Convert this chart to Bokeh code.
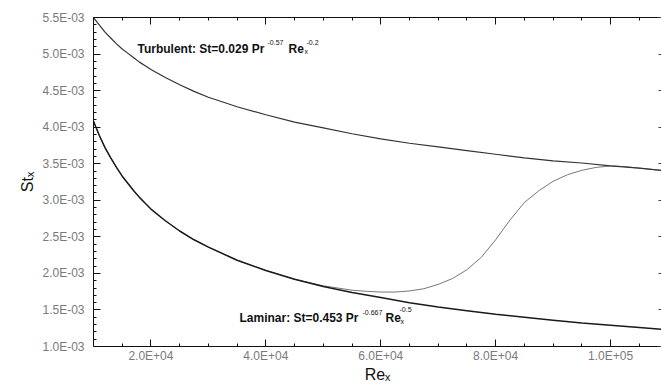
from bokeh.plotting import figure
from bokeh.models import LinearAxis, FixedTicker, Label
from bokeh.embed import file_html
from bokeh.resources import INLINE

# ---- data ----
re_turb = [1.0e4, 1.1e4, 1.2e4, 1.3e4, 1.4e4, 1.5e4, 1.6e4, 1.7e4, 1.8e4, 1.9e4, 2.0e4, 2.25e4,
           2.5e4, 2.75e4, 3.0e4, 3.5e4, 4.0e4, 4.5e4, 5.0e4, 5.5e4, 6.0e4, 6.5e4, 7.0e4, 7.5e4,
           8.0e4, 8.5e4, 9.0e4, 9.5e4, 1.0e5, 1.05e5, 1.1e5]
st_turb = [5.50e-3, 5.40e-3, 5.30e-3, 5.22e-3, 5.14e-3, 5.07e-3, 5.01e-3, 4.95e-3, 4.89e-3, 4.84e-3,
           4.79e-3, 4.68e-3, 4.58e-3, 4.49e-3, 4.41e-3, 4.28e-3, 4.17e-3, 4.07e-3, 3.99e-3, 3.91e-3,
           3.84e-3, 3.78e-3, 3.73e-3, 3.68e-3, 3.63e-3, 3.58e-3, 3.54e-3, 3.51e-3, 3.47e-3, 3.44e-3,
           3.40e-3]

re_lam = [1.0e4, 1.1e4, 1.2e4, 1.3e4, 1.4e4, 1.5e4, 1.6e4, 1.7e4, 1.8e4, 1.9e4, 2.0e4, 2.25e4,
          2.5e4, 2.75e4, 3.0e4, 3.5e4, 4.0e4, 4.5e4, 5.0e4, 5.5e4, 6.0e4, 6.5e4, 7.0e4, 7.5e4,
          8.0e4, 8.5e4, 9.0e4, 9.5e4, 1.0e5, 1.05e5, 1.1e5]
st_lam = [4.08e-3, 3.89e-3, 3.72e-3, 3.58e-3, 3.45e-3, 3.33e-3, 3.23e-3, 3.13e-3, 3.04e-3, 2.96e-3,
          2.88e-3, 2.72e-3, 2.58e-3, 2.46e-3, 2.36e-3, 2.18e-3, 2.04e-3, 1.92e-3, 1.82e-3, 1.74e-3,
          1.67e-3, 1.60e-3, 1.54e-3, 1.49e-3, 1.44e-3, 1.40e-3, 1.36e-3, 1.32e-3, 1.29e-3, 1.26e-3,
          1.23e-3]

re_trans = [1.0e4, 1.1e4, 1.2e4, 1.3e4, 1.4e4, 1.5e4, 1.6e4, 1.7e4, 1.8e4, 1.9e4, 2.0e4, 2.25e4,
            2.5e4, 2.75e4, 3.0e4, 3.5e4, 4.0e4, 4.5e4, 5.0e4, 5.5e4, 5.75e4, 6.0e4, 6.25e4, 6.5e4,
            6.75e4, 7.0e4, 7.25e4, 7.5e4, 7.75e4, 8.0e4, 8.25e4, 8.5e4, 8.75e4, 9.0e4, 9.25e4,
            9.5e4, 9.75e4, 1.0e5, 1.025e5, 1.05e5, 1.1e5]
st_trans = [4.08e-3, 3.89e-3, 3.72e-3, 3.58e-3, 3.45e-3, 3.33e-3, 3.23e-3, 3.13e-3, 3.04e-3, 2.96e-3,
            2.88e-3, 2.72e-3, 2.58e-3, 2.46e-3, 2.36e-3, 2.18e-3, 2.04e-3, 1.92e-3, 1.83e-3, 1.77e-3,
            1.755e-3, 1.745e-3, 1.745e-3, 1.76e-3, 1.79e-3, 1.85e-3, 1.93e-3, 2.05e-3, 2.22e-3,
            2.46e-3, 2.73e-3, 2.97e-3, 3.13e-3, 3.26e-3, 3.35e-3, 3.41e-3, 3.45e-3, 3.47e-3,
            3.46e-3, 3.44e-3, 3.40e-3]

x_major_ticks = [2.0e4, 4.0e4, 6.0e4, 8.0e4, 1.0e5]
x_tick_labels = ["2.0E+04", "4.0E+04", "6.0E+04", "8.0E+04", "1.0E+05"]
y_major_ticks = [1.0e-3, 1.5e-3, 2.0e-3, 2.5e-3, 3.0e-3, 3.5e-3, 4.0e-3, 4.5e-3, 5.0e-3, 5.5e-3]
y_tick_labels = ["1.0E-03", "1.5E-03", "2.0E-03", "2.5E-03", "3.0E-03",
                 "3.5E-03", "4.0E-03", "4.5E-03", "5.0E-03", "5.5E-03"]
x_minor_ticks = [1.5e4, 2.5e4, 3.0e4, 3.5e4, 4.5e4, 5.0e4, 5.5e4, 6.5e4, 7.0e4, 7.5e4,
                 8.5e4, 9.0e4, 9.5e4, 1.05e5]
y_minor_ticks = [round(1.1e-3 + 1.0e-4 * i, 6) for i in range(44)]

x_title = "Re\u2093"
y_title = "St\u2093"

X_END = 1.0887e5
Y_END = 5.5005e-3

# ---- figure ----
p = figure(width=661, height=385, x_range=(1.0e4, X_END), y_range=(1.0e-3, Y_END),
           output_backend="svg", toolbar_location=None, title=" ",
           min_border_left=93, min_border_right=0, min_border_top=17, min_border_bottom=33)
p.title.text_font_size = "1px"
p.title.standoff = 0
p.title.offset = 0
p.grid.visible = False
p.outline_line_color = None

font = "Liberation Sans"
axis_col = "#111111"

xa = p.xaxis[0]
ya = p.yaxis[0]
xa.ticker = FixedTicker(ticks=x_major_ticks, minor_ticks=x_minor_ticks)
ya.ticker = FixedTicker(ticks=y_major_ticks, minor_ticks=y_minor_ticks)
xa.major_label_overrides = {t: s for t, s in zip(x_major_ticks, x_tick_labels)}
ya.major_label_overrides = {t: s for t, s in zip(y_major_ticks, y_tick_labels)}
for ax in (xa, ya):
    ax.major_tick_in = 7
    ax.major_tick_out = 0
    ax.minor_tick_in = 3
    ax.minor_tick_out = 0
    ax.axis_line_color = axis_col
    ax.major_tick_line_color = axis_col
    ax.minor_tick_line_color = axis_col
    ax.major_label_text_font = font
    ax.major_label_text_font_size = "12px"
    ax.major_label_text_color = "#7a7a7a"
    ax.axis_label_text_font = font
    ax.axis_label_text_font_size = "16px"
    ax.axis_label_text_font_style = "normal"
    ax.axis_label_text_color = axis_col
xa.axis_label = x_title
ya.axis_label = y_title
xa.major_label_standoff = 2
xa.axis_label_standoff = 0
ya.major_label_standoff = 9
ya.axis_label_standoff = 3

top = LinearAxis(ticker=FixedTicker(ticks=x_major_ticks, minor_ticks=x_minor_ticks),
                 major_label_overrides={t: "" for t in x_major_ticks}, major_label_standoff=0,
                 major_tick_in=7, major_tick_out=0, minor_tick_in=3, minor_tick_out=0,
                 axis_line_color=axis_col, major_tick_line_color=axis_col,
                 minor_tick_line_color=axis_col)
p.add_layout(top, "above")
right = LinearAxis(ticker=FixedTicker(ticks=y_major_ticks, minor_ticks=[]),
                   major_label_overrides={t: "" for t in y_major_ticks}, major_label_standoff=0,
                   major_tick_in=3, major_tick_out=0, minor_tick_in=0, minor_tick_out=0,
                   axis_line_color=None, major_tick_line_color="#444444")
p.add_layout(right, "right")

p.line(re_trans, st_trans, line_color="#777777", line_width=1)
p.line(re_lam, st_lam, line_color="#1a1a1a", line_width=1.5)
p.line(re_turb, st_turb, line_color="#333333", line_width=1.2)

def add_label(x, y, text, dx, dy, size, style="normal"):
    p.add_layout(Label(x=x, y=y, x_offset=dx, y_offset=dy, text=text,
                       text_font=font, text_font_size=size, text_color="#111111",
                       text_font_style=style,
                       text_baseline="alphabetic", text_align="left"))

# Turbulent formula
tx, ty = 17660, 5.07e-3
add_label(tx, ty, "Turbulent: St=0.029 Pr", 0, 0, "12px", "bold")
add_label(tx, ty, "-0.57", 130, 6, "7px")
add_label(tx, ty, "Re", 151, 0, "12px", "bold")
add_label(tx, ty, "x", 167, -3, "7px")
add_label(tx, ty, "-0.2", 169, 6, "7px")

# Laminar formula
lx, ly = 35410, 1.39e-3
add_label(lx, ly, "Laminar: St=0.453 Pr", 0, 0, "12px", "bold")
add_label(lx, ly, "-0.667", 123, 5, "7px")
add_label(lx, ly, "Re", 146, 0, "12px", "bold")
add_label(lx, ly, "x", 161, -4, "7px")
add_label(lx, ly, "-0.5", 160, 8, "7px")

open("out.html", "w").write(file_html(p, INLINE))
